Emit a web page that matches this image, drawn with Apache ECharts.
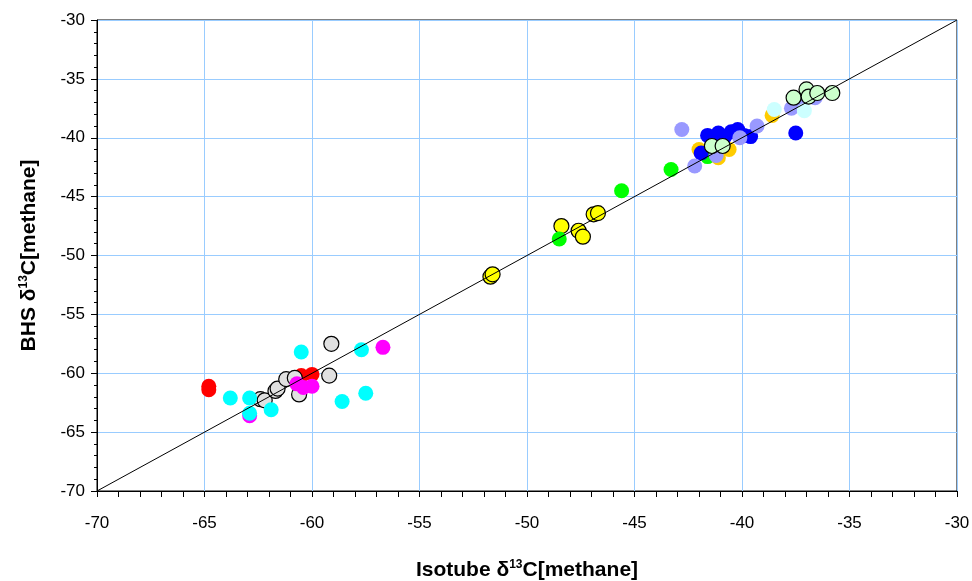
<!DOCTYPE html>
<html>
<head>
<meta charset="utf-8">
<script src="https://cdn.jsdelivr.net/npm/echarts@6/dist/echarts.min.js"></script>
<style>
  html, body { margin: 0; padding: 0; background: #fff; }
  #chart { width: 972px; height: 581px; }
</style>
</head>
<body>
<div id="chart"></div>
<script>
// 数据：[Isotube, BHS]
var redPts = [[-64.8, -61.1], [-64.8, -61.4], [-60.5, -60.2], [-60.0, -60.1]];
var greyPts = [[-62.4, -62.2], [-62.2, -62.3], [-61.7, -61.5], [-61.6, -61.3], [-61.2, -60.5],
  [-60.8, -60.4], [-60.6, -61.8], [-59.1, -57.5], [-59.2, -60.2]];
var magentaPts = [[-60.7, -60.9], [-60.0, -61.1], [-60.4, -61.2], [-56.7, -57.8], [-62.9, -63.6]];
var cyanPts = [[-60.5, -58.2], [-57.7, -58.0], [-63.8, -62.1], [-62.9, -62.1], [-62.9, -63.4],
  [-61.9, -63.1], [-58.6, -62.4], [-57.5, -61.7]];
var yellowPts = [[-51.7, -51.8], [-51.6, -51.6], [-48.4, -47.5], [-47.6, -47.9], [-47.4, -48.4],
  [-46.9, -46.5], [-46.7, -46.4]];
var greenPts = [[-48.5, -48.6], [-45.6, -44.5], [-43.3, -42.7], [-41.6, -41.6]];
var orangePts = [[-42.0, -41.0], [-41.1, -41.7], [-40.6, -41.0], [-38.6, -38.1]];
var bluePts = [[-41.6, -39.8], [-41.1, -39.6], [-40.8, -39.9], [-40.5, -39.5], [-40.2, -39.3],
  [-39.9, -39.8], [-39.6, -39.9], [-41.3, -40.2], [-41.9, -41.3], [-37.5, -39.6]];
var purplePts = [[-42.8, -39.3], [-42.2, -42.4], [-41.2, -41.5], [-40.1, -40.0], [-39.3, -39.0],
  [-37.7, -37.5], [-37.3, -36.8], [-36.6, -36.6], [-36.9, -36.3]];
var lightCyanPts = [[-38.5, -37.6], [-37.1, -37.7]];
var lightGreenPts = [[-41.4, -40.7], [-40.9, -40.7], [-37.6, -36.6], [-37.0, -35.9], [-36.9, -36.5],
  [-36.5, -36.2], [-35.8, -36.2]];
var oneToOne = [[-70, -70], [-30, -30]];

function pts(data, color, border, z) {
  return {
    type: 'scatter',
    data: data,
    symbolSize: 15,
    z: z,
    itemStyle: {
      color: color,
      opacity: 1,
      borderColor: border ? '#000' : color,
      borderWidth: border ? 1.2 : 0
    }
  };
}

var axisFont = { fontFamily: 'Liberation Sans', fontSize: 17, color: '#000' };
var nameRich = {
  b: { fontFamily: 'Liberation Sans', fontSize: 21, fontWeight: 'bold', color: '#000' },
  s: { fontFamily: 'Liberation Sans', fontSize: 12, fontWeight: 'bold', color: '#000', verticalAlign: 'top', padding: [0, 0, 10, 0] }
};

var myChart = echarts.init(document.getElementById('chart'));
var option = {
  animation: false,
  grid: {
    left: 97, right: 15, top: 20, bottom: 90,
    outerBoundsMode: 'none',
    show: true, borderColor: '#000', borderWidth: 1
  },
  xAxis: {
    type: 'value', min: -70, max: -30, interval: 5,
    name: '{b|Isotube δ}{s|13}{b|C[methane]}',
    nameLocation: 'middle', nameGap: 68,
    nameTextStyle: { rich: nameRich },
    axisLine: { onZero: false, lineStyle: { color: '#000', width: 1 } },
    axisTick: { length: 6, lineStyle: { color: '#000' } },
    minorTick: { show: true, splitNumber: 5, length: 6, lineStyle: { color: '#000' } },
    axisLabel: Object.assign({ margin: 24 }, axisFont),
    splitLine: { show: true, lineStyle: { color: '#99ccff', width: 1 } }
  },
  yAxis: {
    type: 'value', min: -70, max: -30, interval: 5,
    name: '{b|BHS δ}{s|13}{b|C[methane]}',
    nameLocation: 'middle', nameGap: 57, nameRotate: 90,
    nameTextStyle: { rich: nameRich },
    axisLine: { onZero: false, lineStyle: { color: '#000', width: 1 } },
    axisTick: { length: 6, lineStyle: { color: '#000' } },
    minorTick: { show: true, splitNumber: 5, length: 3, lineStyle: { color: '#000' } },
    axisLabel: Object.assign({ margin: 12 }, axisFont),
    splitLine: { show: true, lineStyle: { color: '#99ccff', width: 1 } }
  },
  series: [
    {
      type: 'line', data: oneToOne, symbol: 'none', z: 20,
      lineStyle: { color: '#000', width: 1 }
    },
    pts(redPts, '#ff0000', false, 2),
    pts(greyPts, '#e0e0e0', true, 3),
    pts(magentaPts, '#ff00ff', false, 4),
    pts(cyanPts, '#00ffff', false, 5),
    pts(yellowPts, '#ffff00', true, 6),
    pts(greenPts, '#00ff00', false, 7),
    pts(orangePts, '#ffcc00', false, 8),
    pts(bluePts, '#0000ff', false, 9),
    pts(purplePts, '#9999ff', false, 10),
    pts(lightCyanPts, '#ccffff', false, 11),
    pts(lightGreenPts, '#ccffcc', true, 12)
  ]
};
myChart.setOption(option);
</script>
</body>
</html>
